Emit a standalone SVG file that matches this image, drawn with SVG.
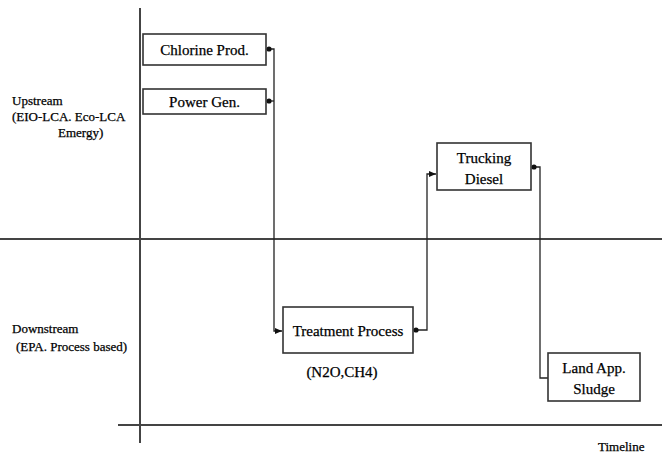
<svg xmlns="http://www.w3.org/2000/svg" width="662" height="456" viewBox="0 0 662 456" font-family="'Liberation Serif', 'Times New Roman', 'DejaVu Serif', serif">
<defs>
<marker id="arr" markerWidth="8" markerHeight="8" refX="7" refY="4" orient="auto" markerUnits="userSpaceOnUse"><path d="M0,1 L7,4 L0,7 Z" fill="#111"/></marker>
<marker id="dot" markerWidth="6" markerHeight="6" refX="3" refY="3" markerUnits="userSpaceOnUse"><circle cx="3" cy="3" r="2.6" fill="#111"/></marker>
</defs>
<style>
.axis{stroke:#444;stroke-width:2;fill:none}
.box{fill:#fff;stroke:#333;stroke-width:1.6}
.con{stroke:#222;stroke-width:1.3;fill:none}
text{fill:#000;stroke:#000;stroke-width:0.25}
.lbl{font-size:15px;text-anchor:middle}
.side{font-size:13px}
</style>
<rect width="662" height="456" fill="#fff"/>
<g id="axes">
<line class="axis" x1="140" y1="8" x2="140" y2="443"/>
<line class="axis" x1="0" y1="239" x2="662" y2="239"/>
<line class="axis" x1="118" y1="425" x2="662" y2="425"/>
</g>
<g id="labels">
<text class="side" x="12" y="105">Upstream</text>
<text class="side" x="12" y="121">(EIO-LCA. Eco-LCA</text>
<text class="side" x="58" y="137">Emergy)</text>
<text class="side" x="12" y="333">Downstream</text>
<text class="side" x="16" y="351">(EPA. Process based)</text>
<text class="lbl" x="342" y="377">(N2O,CH4)</text>
<text class="side" x="598" y="451">Timeline</text>
</g>
<g id="connectors">
<path class="con" d="M269,49 H274 V331 H282" marker-start="url(#dot)" marker-end="url(#arr)"/>
<path class="con" d="M269,101 H274" marker-start="url(#dot)"/>
<path class="con" d="M416,330 H427 V174 H436" marker-start="url(#dot)" marker-end="url(#arr)"/>
<path class="con" d="M534,167 H540 V378 H548" marker-start="url(#dot)"/>
</g>
<g id="chlorine">
<rect class="box" x="143" y="34" width="123" height="31"/>
<text class="lbl" x="204.5" y="55">Chlorine Prod.</text>
</g>
<g id="power">
<rect class="box" x="143" y="89" width="123" height="25"/>
<text class="lbl" x="204.5" y="107">Power Gen.</text>
</g>
<g id="trucking">
<rect class="box" x="437" y="143" width="94" height="47"/>
<text class="lbl" x="484" y="163">Trucking</text>
<text class="lbl" x="484" y="184">Diesel</text>
</g>
<g id="treatment">
<rect class="box" x="283" y="307" width="130" height="46"/>
<text class="lbl" x="348" y="336">Treatment Process</text>
</g>
<g id="land">
<rect class="box" x="548" y="353" width="92" height="48"/>
<text class="lbl" x="594" y="373">Land App.</text>
<text class="lbl" x="594" y="394">Sludge</text>
</g>
</svg>
